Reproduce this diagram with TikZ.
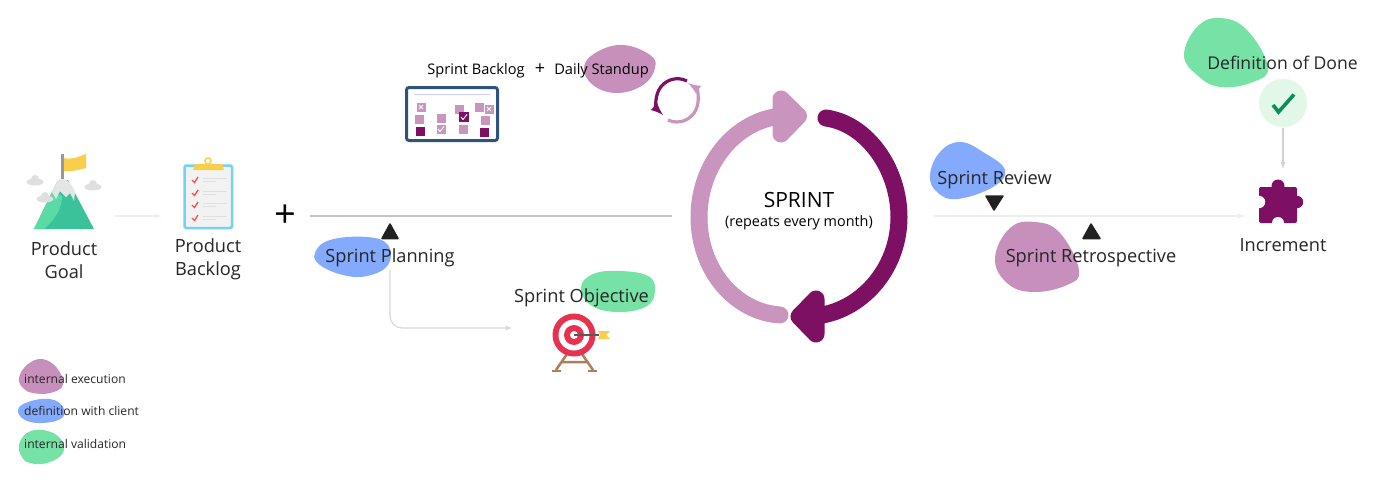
\documentclass[tikz,border=0pt]{standalone}
\usepackage{fontspec}
\setmainfont{Open Sans}
\usetikzlibrary{positioning}
\definecolor{pinkblob}{HTML}{C78FBB}
\definecolor{blueblob}{HTML}{83AAFC}
\definecolor{greenblob}{HTML}{77E2A6}
\definecolor{plum}{HTML}{7D1063}
\definecolor{lightplum}{HTML}{C994BD}
\definecolor{fainted}{HTML}{EFEFEF}
\definecolor{wire}{HTML}{C4C4C4}
\definecolor{peak}{HTML}{3CC29A}
\definecolor{peaklight}{HTML}{5ADBA6}
\definecolor{flag}{HTML}{F8CE4A}
\definecolor{navy}{HTML}{2F5379}
\definecolor{bullseye}{HTML}{E8304F}
\definecolor{easel}{HTML}{A9805A}
\definecolor{tick}{HTML}{0A8F5B}
\definecolor{tickbg}{HTML}{E3F7E9}
\tikzset{
    lbl/.style={font=\fontsize{18.2}{23}\selectfont,text=black!85,inner sep=0pt,align=center},
    smalllbl/.style={font=\fontsize{14.6}{17}\selectfont,text=black,inner sep=0pt},
    keylbl/.style={font=\fontsize{12.1}{14}\selectfont,text=black!85,inner sep=0pt,anchor=west},
    marker/.style={fill=black!87,draw=black!87,line width=1.5pt,line join=round},
    tile/.style={fill=lightplum,minimum size=9pt,inner sep=0pt},
}
\begin{document}
\begin{tikzpicture}[>=latex,x=1pt,y=-1pt]
\useasboundingbox (0,0) rectangle (1376,503);
\fill[white] (0,0) rectangle (1376,503);
% blobs
\fill[pinkblob] plot[smooth cycle,tension=.7] coordinates {(584,67)(597,52)(623,45)(650,55)(655,68)(643,85)(617,93)(593,85)};
\fill[blueblob] plot[smooth cycle,tension=.7] coordinates {(315,253)(330,240)(367,237)(388,245)(388,265)(367,276)(343,275)(320,265)};
\fill[greenblob] plot[smooth cycle,tension=.7] coordinates {(581,288)(593,274)(620,271)(648,276)(655,290)(647,306)(620,312)(592,306)};
\fill[pinkblob] plot[smooth cycle,tension=.7] coordinates {(995,258)(1010,228)(1035,222)(1060,233)(1079,270)(1067,285)(1033,292)(1007,283)};
\fill[blueblob] plot[smooth cycle,tension=.7] coordinates {(930,175)(940,152)(960,142)(983,152)(1005,170)(993,187)(957,199)(937,192)};
\fill[greenblob] plot[smooth cycle,tension=.7] coordinates {(1184,55)(1197,27)(1220,18)(1247,30)(1268,67)(1253,82)(1220,87)(1197,75)};
\fill[pinkblob] plot[smooth cycle,tension=.7] coordinates {(19,378)(27,365)(42,359)(57,368)(63,385)(50,393)(33,393)(23,388)};
\fill[blueblob] plot[smooth cycle,tension=.7] coordinates {(18,410)(28,402)(50,399)(63,407)(62,418)(43,423)(25,420)};
\fill[greenblob] plot[smooth cycle,tension=.7] coordinates {(19,445)(27,433)(43,430)(60,438)(63,453)(47,463)(30,463)(22,457)};
% goal icon
\begin{scope}
    \fill[gray!80] (61,154) rectangle (64,181);
    \fill[flag] (64,158) .. controls (72,160) and (78,157) .. (86,154) -- (86,168) .. controls (78,170) and (72,172) .. (64,171) -- cycle;
    \fill[peak] (34,229) -- (58,180) -- (68,180) -- (94,229) -- cycle;
    \fill[peaklight] (34,229) -- (52,192) -- (62,196) .. controls (62,210) and (54,220) .. (44,229) -- cycle;
    \fill[gray!20] (52,192) -- (58,180) .. controls (62,178) and (70,178) .. (75,192) -- (74,201) -- (70,193) -- (66,197) -- (60,191) -- (56,199) -- cycle;
    \foreach \x/\y in {35/182,93/187,45/199}
    {
        \fill[gray!25] (\x,\y) ellipse (8.5 and 3.5);
        \fill[gray!25] (\x,\y-3) circle (4);
    }
\end{scope}
% backlog icon
\begin{scope}
    \draw[cyan!55!white,fill=gray!10,line width=2.5pt,rounded corners=1.5pt] (184.5,165.5) rectangle (232,228);
    \fill[flag] (193,170) -- (195,164) -- (222,164) -- (224,170) -- cycle;
    \draw[flag,line width=1.5pt] (208,161) circle (3);
    \foreach \y in {180,193,205,218}
    {
        \draw[red!70,line width=1.3pt] (192,\y) -- (194.5,\y+2.5) -- (198,\y-3);
        \draw[gray!25,line width=.8pt] (203,\y-2) -- (227,\y-2);
        \draw[gray!25,line width=.8pt] (203,\y+1) -- (216,\y+1);
    }
\end{scope}
% board icon
\begin{scope}
    \draw[navy,fill=white,line width=3pt,rounded corners=2.5pt] (406.5,87.5) rectangle (497.5,140.5);
    \draw[blue!20,line width=.6pt] (414,94) -- (490,94);
    \foreach \x/\y in {459/109,479/107,419/119,441/118,485/120,463/129}
    {
        \node[tile] (t\x) at (\x,\y) {};
    }
    \foreach \x/\y in {421/107,489/109}
    {
        \node[tile] (x\x) at (\x,\y) {};
        \draw[white,line width=.9pt] (\x-2,\y-2) -- (\x+2,\y+2) (\x-2,\y+2) -- (\x+2,\y-2);
    }
    \foreach \x/\y in {420/131,484/132}
    {
        \node[tile,fill=plum] (d\x) at (\x,\y) {};
    }
    \node[tile,fill=plum,minimum size=10pt] (d464) at (464,117) {};
    \draw[white,line width=.9pt] (461,117) -- (463,119.5) -- (467,114.5);
    \node[tile] (c441) at (441,129) {};
    \draw[white,line width=.9pt] (438,129) -- (440,131.5) -- (444,126.5);
\end{scope}
% small cycle
\draw[plum,line width=3.2pt,->] (687,81) arc[start angle=-63,end angle=-227,radius=21];
\draw[lightplum,line width=3.2pt,->] (668,120) arc[start angle=115,end angle=-58,radius=21];
% target icon
\begin{scope}
    \draw[easel,line width=2.5pt] (567,354) -- (556,370) (582,354) -- (593,370) (561,362) -- (588,362);
    \draw[easel,line width=1.8pt] (552,371) -- (561,371) (588,371) -- (597,371);
    \fill[bullseye] (574,335) circle (21.5);
    \fill[white] (574,335) circle (15.5);
    \fill[bullseye] (574,335) circle (10);
    \fill[white] (574,335) circle (4);
    \draw[gray!70!black,line width=1.2pt] (574,335) -- (599,335);
    \fill[flag] (598,331) -- (610,331) -- (606,335) -- (610,339) -- (598,339) -- (600,335) -- cycle;
\end{scope}
% big arrows
\draw[lightplum,line width=17pt,line cap=round] (780,315) .. controls (735,312) and (699,270) .. (699,217) .. controls (699,165) and (735,120) .. (782,116);
\draw[lightplum,fill=lightplum,line width=17pt,line join=round] (781,99) -- (798.5,116) -- (781,134) -- cycle;
\draw[plum,line width=17pt,line cap=round] (826,118) .. controls (868,124) and (899,170) .. (899,217) .. controls (899,270) and (860,312) .. (815,316);
\draw[plum,fill=plum,line width=17pt,line join=round] (816,299) -- (799,316.5) -- (816,334) -- cycle;
\node[inner sep=0pt,font=\fontsize{21}{24}\selectfont] (sprint) at (799,200) {SPRINT};
\node[smalllbl,font=\fontsize{14.4}{17}\selectfont] (repeats) at (799,223) {(repeats every month)};
% check and puzzle
\node[circle,fill=tickbg,draw=green!12,minimum size=48pt,inner sep=0pt] (done) at (1283,103) {};
\draw[tick,line width=3.6pt] (1273,105) -- (1278.5,112) -- (1294,94.5);
\node[inner sep=0pt,minimum width=38pt,minimum height=36pt,fill=plum,rounded corners=2pt] (puzzle) at (1278,205) {};
\fill[plum] (1278,186) circle (6.5);
\fill[plum] (1297,202) circle (6.2);
\fill[white] (1259,202) circle (6.2);
\fill[white] (1278,223) circle (6);
% labels
\node[lbl] (goal) at (64,260.5) {Product\\Goal};
\node[lbl] (backlog) at (208,259) {Product\\Backlog};
\node[inner sep=0pt,font=\fontsize{38}{38}\selectfont] (plus) at (285,216) {+};
\node[smalllbl] (sbacklog) at (476,70.5) {Sprint Backlog};
\node[smalllbl,font=\fontsize{18}{18}\selectfont] (plustwo) at (540,69) {+};
\node[smalllbl] (standup) at (601.5,70.5) {Daily Standup};
\node[lbl] (planning) at (390,258) {Sprint Planning};
\node[lbl] (objective) at (581.5,298) {Sprint Objective};
\node[lbl] (review) at (994.5,180) {Sprint Review};
\node[lbl] (retro) at (1091,258) {Sprint Retrospective};
\node[lbl] (increment) at (1283,245.5) {Increment};
\node[lbl,font=\fontsize{17.6}{23}\selectfont] (dod) at (1282.5,62.5) {Definition of Done};
\node[keylbl] (keyexec) at (24,379) {internal execution};
\node[keylbl] (keydef) at (24,411) {definition with client};
\node[keylbl] (keyval) at (24,444) {internal validation};
% markers
\draw[marker] (390,224) -- (382,238.5) -- (398,238.5) -- cycle;
\draw[marker] (994,210) -- (986,196) -- (1003,196) -- cycle;
\draw[marker] (1091,224) -- (1083,238.5) -- (1100,238.5) -- cycle;
% connectors
\coordinate (goalout) at (115,216);
\coordinate (backlogin) at (162,216);
\coordinate (sprintin) at (672,216);
\coordinate (planout) at (310,216);
\coordinate (reviewout) at (933,216);
\coordinate (incrementin) at (1245,216);
\coordinate (objin) at (512,328);
\draw[fainted,line width=1.5pt,->] (goalout) -- (backlogin);
\draw[wire,line width=1.3pt] (planout) -- (sprintin);
\draw[fainted,line width=1.5pt,->] (reviewout) -- (incrementin);
\draw[gray!30,line width=1.2pt,->,rounded corners=12pt] (planning.south) ++(0,3) |- (objin);
\draw[gray!35,line width=1.3pt,->,shorten <=1pt,shorten >=18pt] (done.south) -- (done.south |- puzzle.north);
\end{tikzpicture}
\end{document}
